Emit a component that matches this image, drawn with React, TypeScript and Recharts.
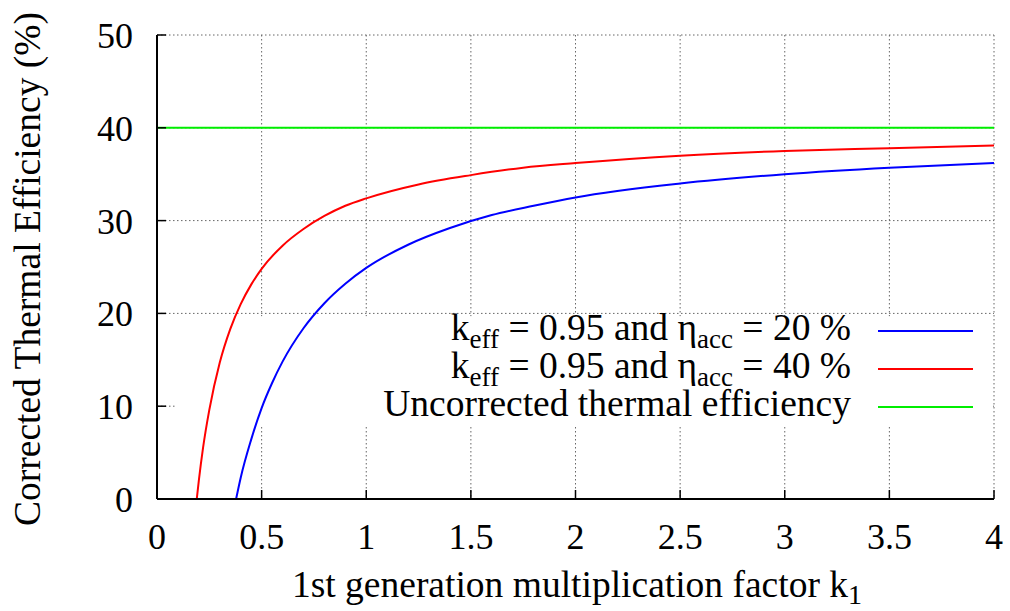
import React from "react";
import {
  LineChart,
  Line,
  XAxis,
  YAxis,
  CartesianGrid,
  ReferenceArea
} from "recharts";

const FONT = "'Liberation Serif', 'Times New Roman', serif";

// axis ticks
const kTicks = [0, 0.5, 1, 1.5, 2, 2.5, 3, 3.5, 4];
const etaTicks = [0, 10, 20, 30, 40, 50];

// k_eff = 0.95, eta_acc = 20 %
const blueK = [0.378, 0.4, 0.45, 0.5, 0.55, 0.6, 0.7, 0.8, 0.9, 1.0, 1.2, 1.4, 1.6, 1.8, 2.0, 2.5, 3.0, 3.5, 4.0];
const blueEta = [0, 2.3, 6.4, 9.8, 12.5, 14.8, 18.4, 21.1, 23.2, 24.9, 27.4, 29.2, 30.6, 31.6, 32.5, 34.0, 35.0, 35.7, 36.2];

// k_eff = 0.95, eta_acc = 40 %
const redK = [0.19, 0.2, 0.22, 0.25, 0.3, 0.35, 0.4, 0.45, 0.5, 0.6, 0.7, 0.8, 0.9, 1.0, 1.25, 1.5, 1.75, 2.0, 2.5, 3.0, 3.5, 4.0];
const redEta = [0, 2.0, 5.5, 9.6, 14.7, 18.3, 21.0, 23.1, 24.8, 27.3, 29.1, 30.5, 31.6, 32.4, 33.9, 34.9, 35.7, 36.2, 37.0, 37.5, 37.8, 38.1];

// uncorrected
const greenK = [0, 4];
const greenEta = [40, 40];

const toRows = (ks: number[], vals: number[]) => ks.map((k, i) => ({ k, eta: vals[i] }));

const blueData = toRows(blueK, blueEta);
const redData = toRows(redK, redEta);
const greenData = toRows(greenK, greenEta);

const BLUE = "#0000ff";
const RED = "#ff0000";
const GREEN = "#00ee00";

const W = 1010;
const H = 611;

const BottomTick = (props: any) => {
  const { x, y, payload } = props;
  return (
    <g>
      <line x1={x} y1={y} x2={x} y2={y - 9} stroke="#000" strokeWidth={1.5} />
      <text x={x} y={y + 50} textAnchor="middle" fontSize={36} fontFamily={FONT} fill="#000">
        {String(payload.value)}
      </text>
    </g>
  );
};

const TopTick = (props: any) => {
  const { x, y } = props;
  return <line x1={x} y1={y} x2={x} y2={y + 9} stroke="#000" strokeWidth={1.5} />;
};

const LeftTick = (props: any) => {
  const { x, y, payload } = props;
  return (
    <g>
      <line x1={x} y1={y} x2={x + 9} y2={y} stroke="#000" strokeWidth={1.5} />
      <text x={x - 24} y={y + 13} textAnchor="end" fontSize={36} fontFamily={FONT} fill="#000">
        {String(payload.value)}
      </text>
    </g>
  );
};

const RightTick = (props: any) => {
  const { x, y } = props;
  return <line x1={x} y1={y} x2={x - 9} y2={y} stroke="#000" strokeWidth={1.5} />;
};

const XTitle = () => (
  <text x={577} y={597} textAnchor="middle" fontSize={37.5} fontFamily={FONT} fill="#000">
    1st generation multiplication factor k
    <tspan dy={7} fontSize={28}>1</tspan>
  </text>
);

const YTitle = () => (
  <text
    x={0}
    y={0}
    transform="translate(40, 269) rotate(-90)"
    textAnchor="middle"
    fontSize={37.5}
    fontFamily={FONT}
    fill="#000"
  >
    Corrected Thermal Efficiency (%)
  </text>
);

const legendItems = [
  { color: BLUE, pre: "k", sub1: "eff", mid: " = 0.95 and η", sub2: "acc", post: " = 20 %" },
  { color: RED, pre: "k", sub1: "eff", mid: " = 0.95 and η", sub2: "acc", post: " = 40 %" },
  { color: GREEN, pre: "Uncorrected thermal efficiency" }
];

const KeyOverlay = () => (
  <svg
    width={W}
    height={H}
    style={{ position: "absolute", left: 0, top: 0, pointerEvents: "none" }}
  >
    {legendItems.map((it, i) => {
      const base = 340 + i * 38;
      return (
        <g key={i}>
          <text x={851} y={base} textAnchor="end" fontSize={37.5} fontFamily={FONT} fill="#000">
            {it.pre}
            {it.sub1 && (
              <>
                <tspan dy={8} fontSize={27}>{it.sub1}</tspan>
                <tspan dy={-8}>{it.mid}</tspan>
                <tspan dy={8} fontSize={27}>{it.sub2}</tspan>
                <tspan dy={-8}>{it.post}</tspan>
              </>
            )}
          </text>
          <line x1={878} y1={base - 9} x2={973} y2={base - 9} stroke={it.color} strokeWidth={2} />
        </g>
      );
    })}
  </svg>
);

export default function App() {
  return (
    <div style={{ position: "absolute", left: 0, top: 0, width: W, height: H, background: "#fff" }}>
      <LineChart
        width={W}
        height={H}
        margin={{ top: 35, right: 16, bottom: 0, left: 0 }}
      >
        <CartesianGrid stroke="#666" strokeDasharray="1.5 2.5" strokeWidth={1} />

        <XAxis
          dataKey="k"
          type="number"
          domain={[0, 4]}
          ticks={kTicks}
          height={112}
          tickSize={0}
          tickMargin={0}
          tick={<BottomTick />}
          axisLine={{ stroke: "#000", strokeWidth: 2 }}
          allowDataOverflow
          label={<XTitle />}
        />
        <XAxis
          xAxisId="top"
          orientation="top"
          dataKey="k"
          type="number"
          domain={[0, 4]}
          ticks={kTicks}
          height={0}
          tickSize={0}
          tickMargin={0}
          tick={<TopTick />}
          axisLine={{ stroke: "#000", strokeWidth: 2 }}
        />
        <YAxis
          type="number"
          domain={[0, 50]}
          ticks={etaTicks}
          width={157}
          tickSize={0}
          tickMargin={0}
          tick={<LeftTick />}
          axisLine={{ stroke: "#000", strokeWidth: 2 }}
          allowDataOverflow
          label={<YTitle />}
        />
        <YAxis
          yAxisId="right"
          orientation="right"
          type="number"
          domain={[0, 50]}
          ticks={etaTicks}
          width={0}
          tickSize={0}
          tickMargin={0}
          tick={<RightTick />}
          axisLine={{ stroke: "#000", strokeWidth: 2 }}
        />

        {/* blank key area hides the grid behind the key text */}
        <ReferenceArea x1={0.086} x2={3.99} y1={7.9} y2={19.7} fill="#fff" fillOpacity={1} stroke="none" />

        <Line data={blueData} dataKey="eta" type="monotone" stroke={BLUE} strokeWidth={2} dot={false} isAnimationActive={false} />
        <Line data={redData} dataKey="eta" type="monotone" stroke={RED} strokeWidth={2} dot={false} isAnimationActive={false} />
        <Line data={greenData} dataKey="eta" type="linear" stroke={GREEN} strokeWidth={2} dot={false} isAnimationActive={false} />
      </LineChart>
      <KeyOverlay />
    </div>
  );
}
